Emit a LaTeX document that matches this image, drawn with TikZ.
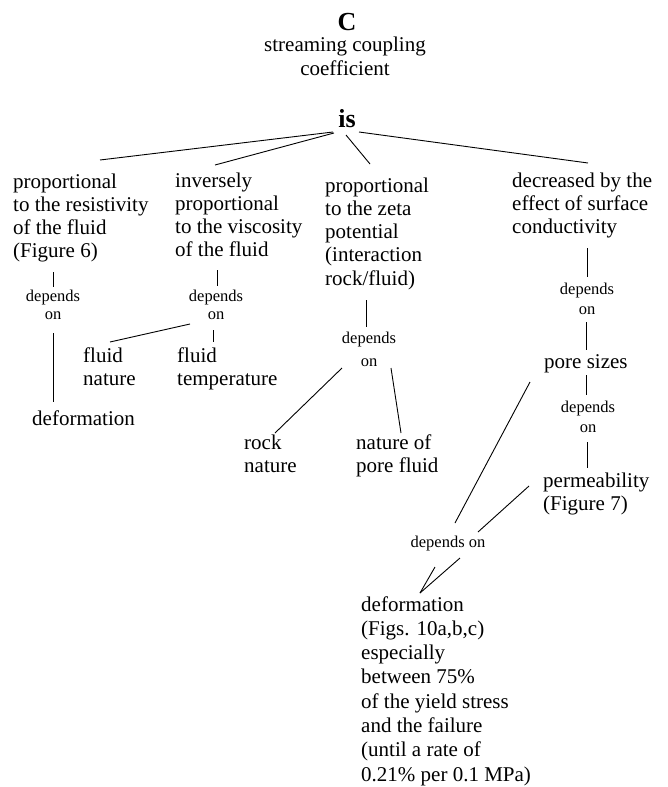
\documentclass[tikz,border=0pt]{standalone}
\usepackage{fontspec}
\setmainfont{Liberation Serif}
\newcommand{\blkL}[1]{\begin{tabular}[t]{@{}l@{}}#1\end{tabular}}
\newcommand{\blkC}[1]{\begin{tabular}[t]{@{}c@{}}#1\end{tabular}}
\tikzset{
  txt/.style={inner sep=0pt, anchor=base west, font=\fontsize{21}{23.3}\selectfont},
  txtlow/.style={inner sep=0pt, anchor=base west, font=\fontsize{21}{24.3}\selectfont},
  ttl/.style={inner sep=0pt, anchor=base, font=\fontsize{26}{28}\selectfont\bfseries},
  sub/.style={inner sep=0pt, anchor=base, font=\fontsize{21}{24}\selectfont},
  dep/.style={inner sep=0pt, anchor=base, font=\fontsize{16.5}{18}\selectfont},
  depw/.style={inner sep=0pt, anchor=base, font=\fontsize{16.5}{20}\selectfont},
  depx/.style={inner sep=0pt, anchor=base, font=\fontsize{16.5}{23}\selectfont},
  link/.style={draw=black, line width=0.9pt}
}
\begin{document}
\begin{tikzpicture}[x=1pt,y=-1pt]
\useasboundingbox[fill=white] (0,0) rectangle (667,787);
% title
\node[ttl] (C) at (347,30) {C};
\node[sub] (sub) at (345,51) {\blkC{streaming coupling\\coefficient}};
\node[ttl] (is) at (347,127) {is};
% first level
\node[txt] (b1) at (13,188) {\blkL{proportional\\to the resistivity\\of the fluid\\(Figure 6)}};
\node[txt] (b2) at (175,187) {\blkL{inversely\\proportional\\to the viscosity\\of the fluid}};
\node[txt] (b3) at (325,192) {\blkL{proportional\\to the zeta\\potential\\(interaction\\rock/fluid)}};
\node[txt] (b4) at (512,187) {\blkL{decreased by the\\effect of surface\\conductivity}};
% branch 1
\node[dep] (d1) at (53,301) {\blkC{depends\\on}};
\node[txt] (def1) at (32,425) {deformation};
% branch 2
\node[dep] (d2) at (216,301) {\blkC{depends\\on}};
\node[txt] (fn) at (83,362) {\blkL{fluid\\nature}};
\node[txt] (ft) at (177,362) {\blkL{fluid\\temperature}};
% branch 3
\node[depx] (d3) at (369,343) {\blkC{depends\\on}};
\node[txt] (rn) at (244,449) {\blkL{rock\\nature}};
\node[txt] (np) at (356,449) {\blkL{nature of\\pore fluid}};
% branch 4
\node[depw] (d4) at (587,294) {\blkC{depends\\on}};
\node[txt] (ps) at (544,368) {pore sizes};
\node[depw] (d5) at (588,412) {\blkC{depends\\on}};
\node[txt] (perm) at (543,487) {\blkL{permeability\\(Figure 7)}};
\node[dep] (d6) at (448,547) {depends on};
\node[txtlow] (def2) at (361,611) {\blkL{deformation\\(Figs. 10a,b,c)\\especially\\between 75\%\\of the yield stress\\and the failure\\(until a rate of\\0.21\% per 0.1 MPa)}};
% connector end points
\coordinate (is1) at (333,132); \coordinate (b1t) at (100,160);
\coordinate (is2) at (334,133); \coordinate (b2t) at (215,165);
\coordinate (is3) at (346,135); \coordinate (b3t) at (370,164);
\coordinate (is4) at (359,132); \coordinate (b4t) at (588,163);
\coordinate (b1b) at (53,272); \coordinate (d1t) at (53,287);
\coordinate (d1b) at (53,333); \coordinate (def1t) at (53,402);
\coordinate (b2b) at (217,270); \coordinate (d2t) at (217,286);
\coordinate (d2b) at (213,330); \coordinate (ftt) at (213,342);
\coordinate (d2l) at (190,324); \coordinate (fnt) at (110,342);
\coordinate (b3b) at (366,300); \coordinate (d3t) at (366,327);
\coordinate (d3l) at (342,368); \coordinate (rnt) at (275,433);
\coordinate (d3r) at (391,368); \coordinate (npt) at (401,433);
\coordinate (b4b) at (587,248); \coordinate (d4t) at (587,277);
\coordinate (d4b) at (586,322); \coordinate (pst) at (586,350);
\coordinate (psb) at (586,375); \coordinate (d5t) at (586,395);
\coordinate (d5b) at (587,442); \coordinate (permt) at (587,468);
\coordinate (psl) at (530,382); \coordinate (d6a) at (455,523);
\coordinate (perml) at (529,486); \coordinate (d6b) at (478,532);
\coordinate (d6c) at (460,558); \coordinate (d6d) at (435,567);
\coordinate (def2t) at (420,593);
% connectors
\draw[link] (is1) -- (b1t);
\draw[link] (is2) -- (b2t);
\draw[link] (is3) -- (b3t);
\draw[link] (is4) -- (b4t);
\draw[link] (b1b) -- (d1t);
\draw[link] (d1b) -- (def1t);
\draw[link] (b2b) -- (d2t);
\draw[link] (d2b) -- (ftt);
\draw[link] (d2l) -- (fnt);
\draw[link] (b3b) -- (d3t);
\draw[link] (d3l) -- (rnt);
\draw[link] (d3r) -- (npt);
\draw[link] (b4b) -- (d4t);
\draw[link] (d4b) -- (pst);
\draw[link] (psb) -- (d5t);
\draw[link] (d5b) -- (permt);
\draw[link] (psl) -- (d6a);
\draw[link] (perml) -- (d6b);
\draw[link] (d6c) -- (def2t);
\draw[link] (d6d) -- (def2t);
\end{tikzpicture}
\end{document}
